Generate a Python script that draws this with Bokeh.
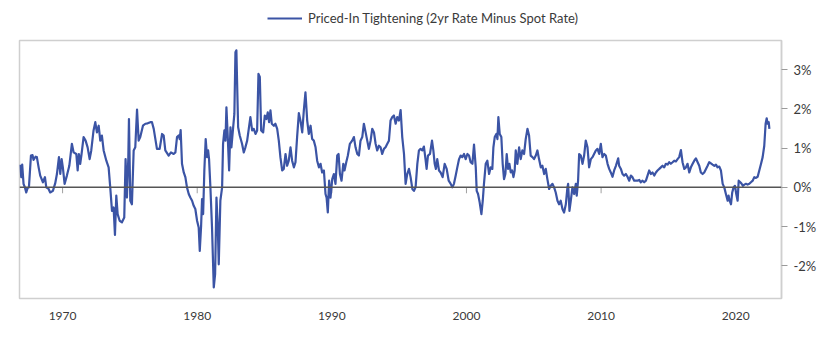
from bokeh.plotting import figure
from bokeh.layouts import column
from bokeh.models import (Range1d, LinearAxis, FixedTicker, PrintfTickFormatter,
                          Span, Legend, LegendItem, ColumnDataSource)
from bokeh.embed import file_html
from bokeh.resources import INLINE

# Decimal years and spread values (%)
years = [
    1966.85, 1966.93, 1967.00, 1967.10, 1967.20, 1967.30, 1967.40, 1967.50, 1967.65, 1967.77,
    1967.84, 1967.99, 1968.09, 1968.22, 1968.34, 1968.54, 1968.69, 1968.79, 1968.96, 1969.08,
    1969.28, 1969.45, 1969.58, 1969.73, 1969.83, 1969.93, 1970.02, 1970.15, 1970.32, 1970.50,
    1970.69, 1970.82, 1971.02, 1971.12, 1971.21, 1971.31, 1971.41, 1971.56, 1971.71, 1971.86,
    1972.01, 1972.13, 1972.30, 1972.43, 1972.55, 1972.68, 1972.80, 1972.92, 1973.05, 1973.25,
    1973.42, 1973.54, 1973.67, 1973.79, 1973.89, 1973.99, 1974.09, 1974.24, 1974.41, 1974.58,
    1974.68, 1974.78, 1974.88, 1974.93, 1975.03, 1975.15, 1975.28, 1975.40, 1975.53, 1975.65,
    1975.77, 1975.97, 1976.15, 1976.32, 1976.52, 1976.64, 1976.77, 1977.01, 1977.21, 1977.39,
    1977.51, 1977.63, 1977.88, 1978.05, 1978.25, 1978.38, 1978.50, 1978.62, 1978.70, 1978.77,
    1978.87, 1979.00, 1979.12, 1979.24, 1979.37, 1979.49, 1979.62, 1979.74, 1979.86, 1979.99,
    1980.11, 1980.19, 1980.29, 1980.36, 1980.44, 1980.53, 1980.63, 1980.73, 1980.81, 1980.88,
    1980.98, 1981.10, 1981.23, 1981.33, 1981.43, 1981.53, 1981.60, 1981.72, 1981.85, 1981.92,
    1982.02, 1982.10, 1982.17, 1982.27, 1982.37, 1982.47, 1982.54, 1982.67, 1982.76, 1982.84,
    1982.91, 1982.96, 1983.04, 1983.16, 1983.33, 1983.46, 1983.58, 1983.71, 1983.83, 1983.95,
    1984.08, 1984.20, 1984.33, 1984.45, 1984.55, 1984.65, 1984.75, 1984.90, 1985.02, 1985.14,
    1985.24, 1985.34, 1985.44, 1985.54, 1985.69, 1985.81, 1985.94, 1986.06, 1986.18, 1986.31,
    1986.43, 1986.56, 1986.68, 1986.80, 1986.93, 1987.05, 1987.18, 1987.30, 1987.42, 1987.55,
    1987.67, 1987.80, 1987.92, 1988.04, 1988.17, 1988.29, 1988.42, 1988.54, 1988.66, 1988.79,
    1988.91, 1989.04, 1989.16, 1989.28, 1989.41, 1989.53, 1989.61, 1989.70, 1989.80, 1989.90,
    1990.03, 1990.15, 1990.27, 1990.40, 1990.50, 1990.60, 1990.72, 1990.85, 1990.94, 1991.07,
    1991.19, 1991.34, 1991.51, 1991.64, 1991.76, 1991.89, 1992.01, 1992.13, 1992.26, 1992.38,
    1992.51, 1992.63, 1992.75, 1992.88, 1993.00, 1993.13, 1993.25, 1993.37, 1993.50, 1993.62,
    1993.74, 1993.87, 1993.99, 1994.12, 1994.24, 1994.36, 1994.49, 1994.61, 1994.74, 1994.86,
    1994.98, 1995.11, 1995.23, 1995.36, 1995.48, 1995.60, 1995.73, 1995.85, 1995.98, 1996.10,
    1996.22, 1996.35, 1996.47, 1996.59, 1996.72, 1996.84, 1996.97, 1997.04, 1997.14, 1997.29,
    1997.44, 1997.54, 1997.64, 1997.73, 1997.83, 1997.96, 1998.08, 1998.23, 1998.38, 1998.53,
    1998.68, 1998.83, 1998.95, 1999.07, 1999.20, 1999.32, 1999.45, 1999.57, 1999.69, 1999.82,
    1999.94, 2000.07, 2000.19, 2000.31, 2000.44, 2000.56, 2000.69, 2000.76, 2000.86, 2000.98,
    2001.11, 2001.21, 2001.30, 2001.43, 2001.55, 2001.68, 2001.80, 2001.92, 2002.00, 2002.10,
    2002.22, 2002.30, 2002.37, 2002.47, 2002.59, 2002.69, 2002.79, 2002.89, 2002.99, 2003.09,
    2003.19, 2003.29, 2003.39, 2003.49, 2003.58, 2003.66, 2003.78, 2003.91, 2004.03, 2004.15,
    2004.28, 2004.40, 2004.53, 2004.65, 2004.77, 2004.90, 2005.02, 2005.15, 2005.27, 2005.39,
    2005.52, 2005.64, 2005.77, 2005.89, 2006.01, 2006.14, 2006.26, 2006.39, 2006.51, 2006.63,
    2006.76, 2006.88, 2007.00, 2007.13, 2007.25, 2007.38, 2007.50, 2007.55, 2007.65, 2007.75,
    2007.87, 2008.00, 2008.12, 2008.19, 2008.29, 2008.37, 2008.49, 2008.62, 2008.74, 2008.86,
    2008.99, 2009.11, 2009.24, 2009.36, 2009.48, 2009.61, 2009.73, 2009.86, 2009.98, 2010.10,
    2010.23, 2010.35, 2010.48, 2010.60, 2010.72, 2010.85, 2010.97, 2011.10, 2011.27, 2011.34,
    2011.47, 2011.59, 2011.71, 2011.84, 2011.96, 2012.09, 2012.21, 2012.33, 2012.46, 2012.58,
    2012.71, 2012.83, 2012.95, 2013.08, 2013.20, 2013.33, 2013.45, 2013.57, 2013.70, 2013.82,
    2013.95, 2014.07, 2014.19, 2014.32, 2014.44, 2014.56, 2014.69, 2014.81, 2014.94, 2015.06,
    2015.18, 2015.31, 2015.43, 2015.56, 2015.68, 2015.80, 2015.93, 2016.05, 2016.18, 2016.30,
    2016.42, 2016.55, 2016.67, 2016.80, 2016.92, 2017.04, 2017.17, 2017.29, 2017.41, 2017.54,
    2017.66, 2017.79, 2017.91, 2018.03, 2018.16, 2018.28, 2018.41, 2018.53, 2018.65, 2018.78,
    2018.90, 2019.03, 2019.15, 2019.27, 2019.40, 2019.47, 2019.55, 2019.65, 2019.74, 2019.84,
    2019.94, 2020.04, 2020.14, 2020.22, 2020.34, 2020.44, 2020.54, 2020.64, 2020.76, 2020.88,
    2021.01, 2021.13, 2021.26, 2021.38, 2021.50, 2021.63, 2021.75, 2021.88, 2022.00, 2022.12,
    2022.22, 2022.30, 2022.37, 2022.45, 2022.50,
]

spread = [
    0.58, 0.26, 0.58, 0.09, 0.00, -0.13, -0.02, 0.00, 0.81, 0.82,
    0.70, 0.78, 0.77, 0.51, 0.30, 0.13, 0.26, 0.00, -0.04, -0.13,
    -0.09, 0.10, 0.34, 0.77, 0.34, 0.72, 0.51, 0.09, 0.30, 0.55,
    1.11, 0.89, 0.85, 0.43, 0.85, 0.60, 0.85, 1.28, 1.19, 1.02,
    0.72, 0.94, 1.45, 1.66, 1.40, 1.57, 1.19, 1.32, 0.94, 0.68,
    0.51, 0.00, -0.60, -0.51, -1.21, -0.21, -0.68, -0.85, -0.89, -0.77,
    0.72, -0.26, 0.72, 1.74, -0.34, -0.43, 0.94, 1.02, 1.98, 1.19,
    1.28, 1.57, 1.62, 1.63, 1.66, 1.66, 1.49, 0.98, 0.98, 1.36,
    1.32, 0.94, 0.81, 0.89, 0.85, 0.89, 1.28, 1.32, 1.23, 1.46,
    0.60, 0.38, 0.26, 0.00, -0.17, -0.26, -0.34, -0.47, -0.55, -0.85,
    -1.02, -1.62, -0.98, -0.30, -0.68, 0.43, 1.23, 0.77, 0.94, 0.72,
    0.00, -1.02, -2.55, -2.21, -0.26, -1.02, -1.96, -0.34, 0.00, 1.11,
    1.45, 1.19, 2.04, 1.28, 0.43, 1.53, 1.02, 1.53, 1.87, 3.44,
    3.49, 2.72, 1.53, 1.32, 1.11, 0.89, 1.02, 1.19, 1.49, 1.79,
    1.45, 1.49, 1.36, 1.45, 2.89, 2.81, 1.45, 1.40, 1.83, 1.74,
    1.91, 1.66, 1.96, 1.62, 1.57, 1.62, 1.49, 1.19, 0.77, 0.43,
    0.47, 0.85, 0.55, 0.68, 1.02, 0.68, 0.51, 0.64, 1.28, 1.89,
    1.70, 1.40, 1.96, 2.42, 1.70, 1.36, 1.57, 1.23, 1.19, 1.02,
    0.68, 0.51, 0.60, 0.38, 0.43, -0.17, -0.26, -0.64, 0.17, -0.26,
    0.21, 0.34, 0.09, 0.81, 0.85, 0.34, 0.17, 0.60, 0.43, 0.64,
    0.81, 1.11, 1.19, 1.28, 1.02, 0.85, 0.81, 1.19, 1.28, 1.62,
    1.40, 1.19, 0.98, 1.19, 1.49, 1.40, 1.11, 0.94, 1.06, 1.02,
    0.85, 0.98, 1.02, 1.11, 1.19, 1.70, 1.79, 1.83, 1.62, 1.79,
    1.70, 1.97, 1.28, 0.85, 0.09, 0.34, 0.47, 0.26, -0.04, -0.09,
    0.00, 0.60, 0.94, 0.98, 0.94, 1.04, 0.68, 0.47, 0.81, 0.85,
    1.19, 0.94, 0.60, 0.47, 0.72, 0.43, 0.38, 0.26, 0.60, 0.47,
    0.17, 0.09, 0.00, 0.09, 0.30, 0.51, 0.72, 0.81, 0.77, 0.85,
    0.72, 0.85, 0.81, 0.64, 0.60, 1.09, 0.51, -0.09, -0.17, -0.38,
    -0.68, -0.34, 0.09, 0.60, 0.68, 0.34, 0.51, 0.47, 1.02, 1.28,
    1.36, 1.23, 1.79, 1.36, 1.28, 0.60, 0.21, 0.34, 0.85, 0.47,
    0.60, 0.38, 0.43, 0.26, 0.43, 0.94, 0.60, 1.02, 0.72, 0.94,
    0.85, 1.23, 1.49, 1.32, 0.81, 0.77, 0.72, 0.81, 0.94, 0.72,
    0.51, 0.55, 0.34, 0.47, 0.21, -0.04, 0.04, 0.09, 0.00, -0.13,
    -0.34, -0.43, -0.34, -0.55, -0.64, -0.43, 0.00, 0.09, -0.60, -0.34,
    0.00, -0.17, 0.09, -0.21, 0.17, 0.85, 0.81, 0.60, 0.81, 1.19,
    1.02, 0.51, 0.72, 0.77, 0.85, 0.94, 0.98, 0.85, 1.11, 0.77,
    0.85, 0.81, 0.60, 0.47, 0.38, 0.27, 0.43, 0.55, 0.74, 0.55,
    0.47, 0.34, 0.30, 0.34, 0.27, 0.17, 0.30, 0.26, 0.17, 0.17,
    0.17, 0.19, 0.13, 0.17, 0.13, 0.17, 0.30, 0.43, 0.34, 0.38,
    0.30, 0.38, 0.43, 0.47, 0.51, 0.55, 0.51, 0.60, 0.58, 0.64,
    0.60, 0.64, 0.68, 0.66, 0.72, 0.77, 0.95, 0.64, 0.47, 0.51,
    0.60, 0.38, 0.51, 0.60, 0.68, 0.74, 0.64, 0.55, 0.38, 0.34,
    0.38, 0.47, 0.55, 0.64, 0.61, 0.58, 0.55, 0.58, 0.51, 0.53,
    0.43, 0.09, 0.00, -0.17, -0.34, -0.21, -0.34, -0.43, -0.13, 0.00,
    0.04, -0.17, -0.34, 0.17, 0.13, 0.09, 0.04, 0.07, 0.09, 0.07,
    0.09, 0.13, 0.17, 0.26, 0.24, 0.27, 0.43, 0.60, 0.77, 1.06,
    1.62, 1.76, 1.62, 1.66, 1.49,
]

decade_ticks = [1970, 1980, 1990, 2000, 2010, 2020]
pct_ticks = [-2, -1, 0, 1, 2, 3]
series_label = "Priced-In Tightening (2yr Rate Minus Spot Rate)"

FONT = "Lato"
TEXT = "#3a3a3a"
LINE = "#3b54a5"

src = ColumnDataSource(dict(x=years, y=spread))

# ---- legend strip above the chart ----
# same series drawn in a strip whose y-range lies outside the data,
# so only its legend entry is visible
top = figure(width=840, height=38, output_backend="svg", toolbar_location=None,
             x_range=Range1d(1966.8, 2023.4), y_range=Range1d(10, 11),
             x_axis_location=None, y_axis_location=None,
             min_border_left=0, min_border_right=0, min_border_top=0, min_border_bottom=0)
top.grid.visible = False
top.outline_line_color = None
swatch = top.line("x", "y", source=src, line_color=LINE, line_width=2.2)
legend = Legend(items=[LegendItem(label=series_label, renderers=[swatch])],
                location=(248, 12), orientation="horizontal",
                border_line_color=None, background_fill_alpha=0,
                label_text_font=FONT, label_text_font_size="13px",
                label_text_color=TEXT, glyph_width=35, glyph_height=12,
                label_standoff=6, padding=0, margin=0)
top.add_layout(legend, "center")

# ---- main chart ----
p = figure(width=840, height=299, output_backend="svg", toolbar_location=None,
           x_range=Range1d(1966.8, 2023.4), y_range=Range1d(-2.83, 3.74),
           y_axis_location=None, x_axis_location=None,
           min_border_left=19, min_border_right=59, min_border_top=2,
           min_border_bottom=39)
p.grid.visible = False
p.outline_line_color = "#cfcfcf"
p.outline_line_width = 1.5
p.background_fill_color = "white"
p.border_fill_color = "white"

# bottom axis: labels only
xaxis = LinearAxis(ticker=FixedTicker(ticks=decade_ticks))
xaxis.axis_line_color = None
xaxis.major_tick_line_color = None
xaxis.minor_tick_line_color = None
xaxis.major_label_standoff = 7
xaxis.major_label_text_font = FONT
xaxis.major_label_text_font_size = "12px"
xaxis.major_label_text_color = TEXT
p.add_layout(xaxis, "below")

# right axis with percent labels
yaxis = LinearAxis(ticker=FixedTicker(ticks=pct_ticks),
                   formatter=PrintfTickFormatter(format="%d%%"))
yaxis.axis_line_color = "#cfcfcf"
yaxis.axis_line_width = 1.5
yaxis.major_tick_line_color = "#9a9a9a"
yaxis.major_tick_out = 6
yaxis.major_tick_in = 0
yaxis.minor_tick_line_color = None
yaxis.major_label_standoff = 6
yaxis.major_label_text_font = FONT
yaxis.major_label_text_font_size = "13px"
yaxis.major_label_text_color = TEXT
p.add_layout(yaxis, "right")

# zero line
p.add_layout(Span(location=0, dimension="width", line_color="#555555", line_width=1.5))

# small decade tick marks hanging below the zero line
p.segment(x0=decade_ticks, x1=decade_ticks, y0=[0] * len(decade_ticks),
          y1=[-0.15] * len(decade_ticks), line_color="#a0a0a0", line_width=1)

p.line("x", "y", source=src, line_color=LINE, line_width=2.2, line_join="round")

layout = column(top, p, spacing=0)
open("out.html", "w").write(file_html(layout, INLINE))
